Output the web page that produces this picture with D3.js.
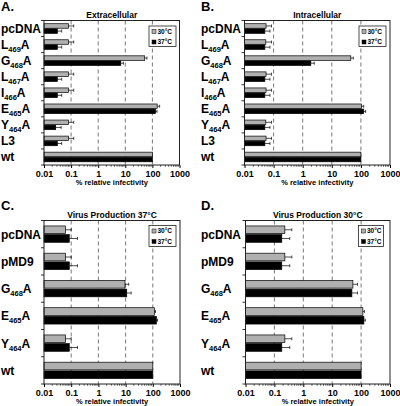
<!DOCTYPE html>
<html><head><meta charset="utf-8">
<script src="https://cdn.jsdelivr.net/npm/d3@7"></script>
<style>body{margin:0;background:#fff}svg{display:block}text{font-family:"Liberation Sans",Arial,sans-serif;font-weight:bold}</style>
</head><body><svg id="c" width="400" height="406"></svg>
<script>
// ---- data ----
const catsAB = ["pcDNA","L469A","G468A","L467A","I466A","E465A","Y464A","L3","wt"];
const catsCD = ["pcDNA","pMD9","G468A","E465A","Y464A","wt"];
const tickValues = [0.01,0.1,1,10,100,1000];
const tickLabels = ["0.01","0.1","1","10","100","1000"];
const seriesNames = ["30°C","37°C"];

const extra30 = [0.08,0.08,52,0.08,0.08,150,0.08,0.08,100];
const extra30Err = [0.125,0.125,63,0.125,0.125,185,0.125,0.125,100];
const extra37 = [0.031,0.031,6.8,0.031,0.031,130,0.027,0.031,100];
const extra37Err = [0.045,0.045,8.5,0.045,0.045,148,0.043,0.045,100];

const intra30 = [0.055,0.054,45,0.055,0.055,105,0.054,0.055,100];
const intra30Err = [0.085,0.085,55,0.085,0.085,125,0.085,0.085,100];
const intra37 = [0.05,0.05,1.9,0.05,0.05,125,0.05,0.05,100];
const intra37Err = [0.075,0.075,2.5,0.075,0.075,145,0.075,0.075,100];

const prod37_30 = [0.062,0.062,9.5,115,0.062,100];
const prod37_30Err = [0.1,0.1,13,125,0.1,100];
const prod37_37 = [0.085,0.085,11,135,0.085,100];
const prod37_37Err = [0.17,0.17,16,150,0.17,100];

const prod30_30 = [0.23,0.23,52,115,0.23,100];
const prod30_30Err = [0.4,0.4,75,130,0.4,100];
const prod30_37 = [0.18,0.18,48,125,0.18,100];
const prod30_37Err = [0.34,0.34,75,140,0.34,100];

const panels = [
  {letter:"A.", title:"Extracellular", cats:catsAB, v30:extra30, e30:extra30Err, v37:extra37, e37:extra37Err,
   x0:44, x1:179.5, y0:20.5, y1:165, lx:149, ly:26, lw:27, lh:20.5, px:1, py:11, labX:1},
  {letter:"B.", title:"Intracellular", cats:catsAB, v30:intra30, e30:intra30Err, v37:intra37, e37:intra37Err,
   x0:244.5, x1:390, y0:20.5, y1:165, lx:359, ly:26, lw:27, lh:20.5, px:201, py:11, labX:201},
  {letter:"C.", title:"Virus Production 37°C", cats:catsCD, v30:prod37_30, e30:prod37_30Err, v37:prod37_37, e37:prod37_37Err,
   x0:44, x1:180, y0:220.5, y1:384, lx:149, ly:225.5, lw:27, lh:21, px:1, py:210, labX:1},
  {letter:"D.", title:"Virus Production 30°C", cats:catsCD, v30:prod30_30, e30:prod30_30Err, v37:prod30_37, e37:prod30_37Err,
   x0:245.5, x1:390, y0:220.5, y1:384, lx:358.5, ly:225.5, lw:25, lh:21, px:201, py:210, labX:201}
];

const svg = d3.select("#c");

function label(g, txt, x, y){
  const t = g.append("text").attr("x",x).attr("y",y).attr("font-size",12);
  const m = txt.match(/^([A-Z])(\d+)(A)$/);
  if(m){
    t.append("tspan").text(m[1]);
    t.append("tspan").attr("font-size",7.5).attr("dy",3).text(m[2]);
    t.append("tspan").attr("dy",-3).text(m[3]);
  } else t.text(txt);
}

panels.forEach(p=>{
  const g = svg.append("g");
  const x = d3.scaleLog().domain([0.01,1000]).range([p.x0,p.x1]);
  const y = d3.scaleBand().domain(p.cats).range([p.y0,p.y1]).paddingInner(0.4).paddingOuter(0.2);
  const ys = d3.scaleBand().domain(seriesNames).range([0,y.bandwidth()]).paddingInner(0.12);

  g.append("text").attr("x",p.px).attr("y",p.py).attr("font-size",13).text(p.letter);
  g.append("text").attr("x",(p.x0+p.x1)/2).attr("y",p.y0-3).attr("text-anchor","middle")
    .attr("font-size",8.5).text(p.title);

  // grid
  g.selectAll(".grid").data([0.1,1,10,100]).join("line")
    .attr("x1",d=>x(d)).attr("x2",d=>x(d)).attr("y1",p.y0).attr("y2",p.y1)
    .attr("stroke","#555").attr("stroke-width",0.8).attr("stroke-dasharray","4,3");

  // bars
  const rows = p.cats.map((c,i)=>({c, s:[
    {s:"30°C", v:p.v30[i], e:p.e30[i]},
    {s:"37°C", v:p.v37[i], e:p.e37[i]}]}));
  rows.forEach(r=>{
    r.s.forEach(d=>{
      const yy = y(r.c)+ys(d.s), h = ys.bandwidth();
      g.append("rect").attr("x",x(0.01)).attr("y",yy).attr("width",x(d.v)-x(0.01)).attr("height",h)
        .attr("fill", d.s==="30°C" ? "#b0b0b0" : "#000").attr("stroke","#000").attr("stroke-width",0.7);
      if(d.e>d.v){
        g.append("line").attr("x1",x(d.v)).attr("x2",x(d.e)).attr("y1",yy+h/2).attr("y2",yy+h/2)
          .attr("stroke","#000").attr("stroke-width",0.7);
        g.append("line").attr("x1",x(d.e)).attr("x2",x(d.e)).attr("y1",yy+h/2-1.5).attr("y2",yy+h/2+1.5)
          .attr("stroke","#000").attr("stroke-width",0.7);
      }
    });
    label(g, r.c, p.labX, y(r.c)+y.bandwidth()/2+4.5);
  });

  // frame
  g.append("rect").attr("x",p.x0).attr("y",p.y0).attr("width",p.x1-p.x0).attr("height",p.y1-p.y0)
    .attr("fill","none").attr("stroke","#222").attr("stroke-width",1);

  // y ticks at boundaries
  const n = p.cats.length;
  d3.range(n+1).forEach(i=>{
    const yy = p.y0 + i*(p.y1-p.y0)/n;
    g.append("line").attr("x1",p.x0-3).attr("x2",p.x0).attr("y1",yy).attr("y2",yy).attr("stroke","#000").attr("stroke-width",0.8);
  });

  // x axis
  const ax = g.append("g").attr("transform",`translate(0,${p.y1})`)
    .call(d3.axisBottom(x).tickValues(tickValues).tickFormat((d,i)=>tickLabels[i]).tickSize(3).tickPadding(3));
  ax.select(".domain").remove();
  ax.selectAll("text").attr("font-size",9).attr("font-family","Liberation Sans, Arial, sans-serif").attr("font-weight","bold").attr("fill","#000");
  const minor = [];
  [0.01,0.1,1,10,100].forEach(dd=>{for(let k=2;k<10;k++) minor.push(dd*k);});
  g.selectAll(".minor").data(minor).join("line")
    .attr("x1",d=>x(d)).attr("x2",d=>x(d)).attr("y1",p.y1).attr("y2",p.y1+1.8)
    .attr("stroke","#000").attr("stroke-width",0.6);
  g.append("text").attr("x",(p.x0+p.x1)/2).attr("y",p.y1+20).attr("text-anchor","middle")
    .attr("font-size",7.5).text("% relative infectivity");

  // legend
  const lg = g.append("g").attr("transform",`translate(${p.lx},${p.ly})`);
  lg.append("rect").attr("width",p.lw).attr("height",p.lh).attr("fill","#fff").attr("stroke","#222").attr("stroke-width",0.8);
  seriesNames.forEach((s,i)=>{
    const yy = 3.5 + i*10.5;
    lg.append("rect").attr("x",3).attr("y",yy).attr("width",4).attr("height",4)
      .attr("fill", i===0?"#b0b0b0":"#000").attr("stroke","#000").attr("stroke-width",0.5);
    lg.append("text").attr("x",8.5).attr("y",yy+4).attr("font-size",6.5).text(s);
  });
});
</script></body></html>
